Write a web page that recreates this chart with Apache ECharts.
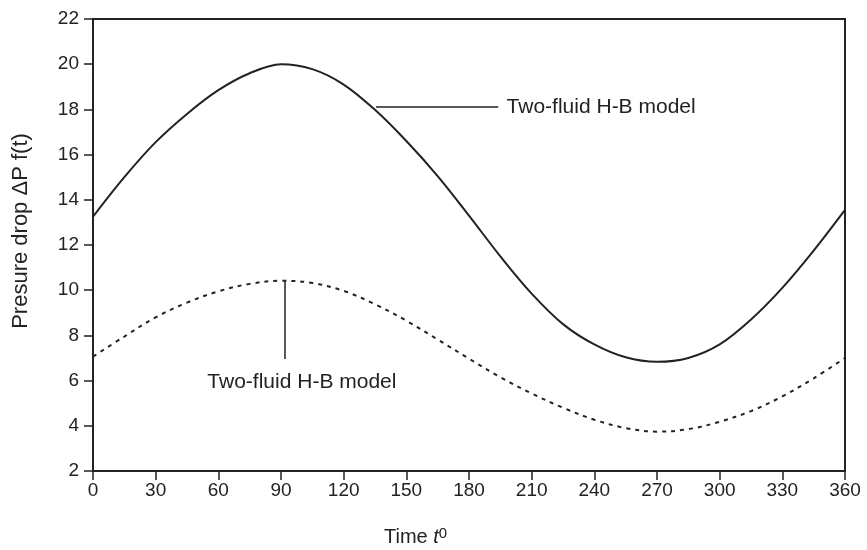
<!DOCTYPE html>
<html>
<head>
<meta charset="utf-8">
<script src="https://cdn.jsdelivr.net/npm/echarts@6/dist/echarts.min.js"></script>
<style>
  html, body { margin: 0; padding: 0; background: #fff; }
  #chart { width: 867px; height: 550px; }
</style>
</head>
<body>
<div id="chart"></div>
<script>
// time in degrees
var angles = [0, 15, 30, 45, 60, 75, 90, 105, 120, 135, 150, 165, 180,
              195, 210, 225, 240, 255, 270, 285, 300, 315, 330, 345, 360];
// solid curve
var solidValues = [13.25, 15.0, 16.55, 17.8, 18.85, 19.6, 20.0, 19.78, 19.1, 17.98, 16.6, 15.05, 13.3,
                   11.5, 9.85, 8.5, 7.6, 7.03, 6.83, 7.0, 7.6, 8.7, 10.1, 11.75, 13.55];
// dashed curve
var dashedValues = [7.06, 7.95, 8.8, 9.45, 9.95, 10.28, 10.42, 10.32, 9.97, 9.38, 8.65, 7.82, 6.97,
                    6.15, 5.43, 4.8, 4.27, 3.9, 3.74, 3.85, 4.18, 4.65, 5.3, 6.1, 7.0];
var labelText = 'Two-fluid H-B model';

var ink = '#222';
var font = 'Liberation Sans, Arial, sans-serif';

function pairs(xs, ys) {
    return xs.map(function (x, i) { return [x, ys[i]]; });
}

var chart = echarts.init(document.getElementById('chart'));
chart.setOption({
    animation: false,
    backgroundColor: '#fff',
    grid: {
        left: 93, right: 22, top: 19, bottom: 79,
        show: true, borderColor: ink, borderWidth: 2, backgroundColor: 'transparent'
    },
    xAxis: {
        type: 'value', min: 0, max: 360, interval: 30,
        axisLine: { lineStyle: { color: ink, width: 2 } },
        axisTick: { inside: false, length: 9, lineStyle: { color: ink, width: 1.5 } },
        axisLabel: { color: ink, fontSize: 19, fontFamily: font, margin: 10 },
        splitLine: { show: false }
    },
    yAxis: {
        type: 'value', min: 2, max: 22, interval: 2,
        axisLine: { show: true, lineStyle: { color: ink, width: 2 } },
        axisTick: { show: true, inside: false, length: 9, lineStyle: { color: ink, width: 1.5 } },
        axisLabel: { color: ink, fontSize: 19, fontFamily: font, margin: 14 },
        splitLine: { show: false }
    },
    series: [
        {
            type: 'line', data: pairs(angles, solidValues), smooth: 0.35,
            showSymbol: false, lineStyle: { color: ink, width: 2 },
            markLine: {
                silent: true, symbol: 'none', label: { show: false },
                lineStyle: { color: ink, width: 1.5, type: 'solid' },
                data: [[{ coord: [135.5, 18.1] }, { coord: [194, 18.1] }]]
            }
        },
        {
            type: 'line', data: pairs(angles, dashedValues), smooth: 0.35,
            showSymbol: false, lineStyle: { color: ink, width: 2, type: [4, 5] },
            markLine: {
                silent: true, symbol: 'none', label: { show: false },
                lineStyle: { color: ink, width: 1.5, type: 'solid' },
                data: [[{ coord: [92, 10.4] }, { coord: [92, 6.96] }]]
            }
        }
    ]
});

var p1 = chart.convertToPixel({ gridIndex: 0 }, [198, 18.1]);
var p2 = chart.convertToPixel({ gridIndex: 0 }, [100, 6.4]);

chart.setOption({
    graphic: [
        {
            type: 'text', x: p1[0], y: p1[1],
            style: { text: labelText, fill: ink, font: '21px ' + font, verticalAlign: 'middle', align: 'left' }
        },
        {
            type: 'text', x: p2[0], y: p2[1],
            style: { text: labelText, fill: ink, font: '21px ' + font, verticalAlign: 'top', align: 'center' }
        },
        {
            type: 'text', x: 384, y: 526,
            style: {
                text: 'Time {i|t}{s|0}', fill: ink, font: '20px ' + font,
                rich: {
                    i: { fontStyle: 'italic', fontSize: 20, fontFamily: font, fill: ink },
                    s: { fontSize: 15, fontFamily: font, fill: ink, verticalAlign: 'top', padding: [0, 0, 8, 0] }
                }
            }
        },
        {
            type: 'text', x: 21, y: 231, rotation: Math.PI / 2,
            style: { text: 'Presure drop ΔP f(t)', fill: ink, font: '22px ' + font, align: 'center', verticalAlign: 'middle' }
        }
    ]
});
</script>
</body>
</html>
